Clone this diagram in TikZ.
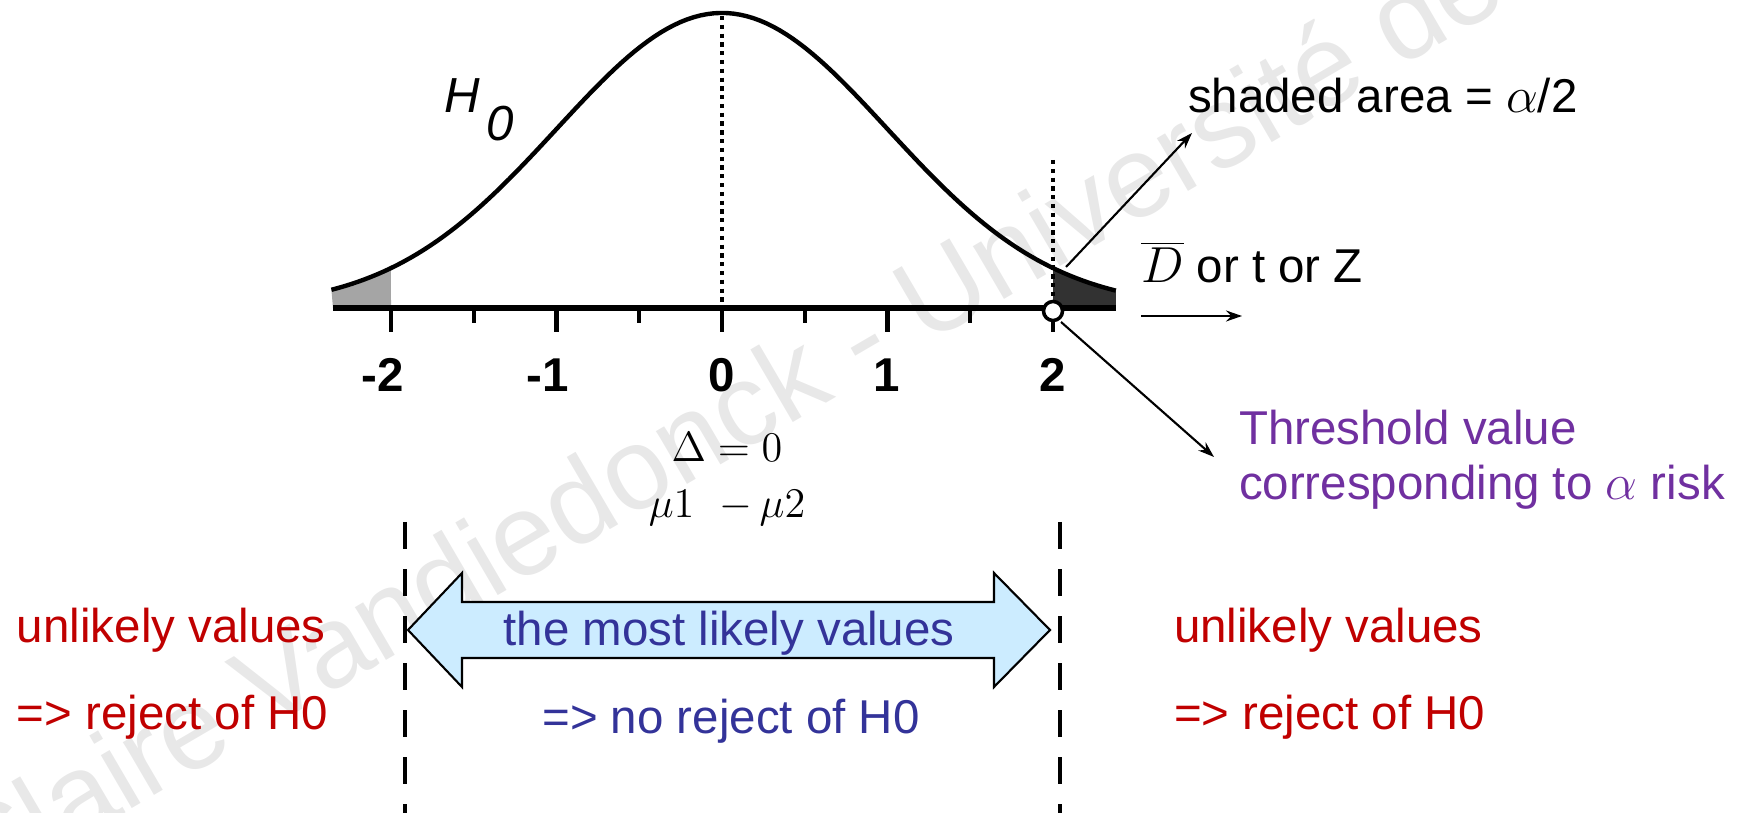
\documentclass[tikz,border=0pt]{standalone}
\usepackage{fontspec}
\setmainfont{Liberation Sans}
\usetikzlibrary{arrows.meta}
\definecolor{myred}{RGB}{192,0,0}
\definecolor{myblue}{RGB}{51,51,153}
\definecolor{mypurple}{RGB}{112,48,160}
\definecolor{arrowfill}{RGB}{204,236,255}
\definecolor{wm}{RGB}{232,232,232}
\definecolor{darkshade}{RGB}{50,50,50}
\definecolor{lightshade}{RGB}{165,165,165}
\begin{document}
\begin{tikzpicture}[x=0.01cm,y=-0.01cm,
  lbl/.style={font=\fontsize{13.5}{15.6}\selectfont, inner sep=0pt, outer sep=0pt},
  ticklbl/.style={font=\fontsize{13.5}{15}\selectfont\bfseries, inner sep=0pt, anchor=base},
  mathlbl/.style={font=\fontsize{13}{15}\selectfont, inner sep=0pt, anchor=base},
  curveline/.style={line width=1.25pt},
  axisline/.style={line width=1.6pt},
  tickline/.style={line width=1.2pt},
  dotline/.style={line width=1.2pt, dash pattern=on 1.2pt off 1.3pt},
  conn/.style={line width=0.6pt, -{Stealth[length=0.16cm, width=0.11cm]}},
  vdash/.style={line width=1.3pt, dash pattern=on 0.27cm off 0.2cm},
  dblarrow/.style={draw=black, line width=0.6pt, fill=arrowfill},
  watermark/.style={font=\fontsize{33}{33}\selectfont, text=wm, inner sep=0pt, rotate=30.3, anchor=base}
]
\useasboundingbox (0,0) rectangle (1737,813);

% watermark
\node[watermark] (wmk) at (743,452) {Claire Vandiedonck - Université de};

% shaded tails
\fill[lightshade] (333,308) -- plot[domain=-2.36:-2, samples=20] ({722+165.5*\x}, {308-295*exp(-0.5*(\x)*(\x))}) -- (391,308) -- cycle;
\fill[darkshade] (1053,308) -- plot[domain=2:2.38, samples=20] ({722+165.5*\x}, {308-295*exp(-0.5*(\x)*(\x))}) -- ({722+165.5*2.38},308) -- cycle;

% dotted lines
\draw[dotline] (722,16) -- (722,308);
\draw[dotline] (1053,160) -- (1053,308);

% curve
\draw[curveline] plot[domain=-2.36:2.38, samples=120] ({722+165.5*\x}, {308-295*exp(-0.5*(\x)*(\x))});

% axis
\draw[axisline] (333,308) -- (1116,308);
\foreach \t in {-2,-1,0,1,2} \draw[tickline] ({722+165.5*\t},308) -- ({722+165.5*\t},332);
\foreach \t in {-1.5,-0.5,0.5,1.5} \draw[tickline] ({722+165.5*\t},308) -- ({722+165.5*\t},323);

% tick labels
\node[ticklbl] (tm2) at (391,392) {\llap{-}2};
\node[ticklbl] (tm1) at (556,392) {\llap{-}1};
\node[ticklbl] (t0) at (722,392) {0};
\node[ticklbl] (t1) at (887,392) {1};
\node[ticklbl] (t2) at (1053,392) {2};

% threshold circle
\node[circle, draw=black, fill=white, line width=1pt, minimum size=0.19cm, inner sep=0pt] (thr) at (1053,311) {};

% H0
\node[lbl, anchor=base west, font=\fontsize{14}{16}\selectfont] (h0) at (444,113) {\itshape H\hspace{0.07cm}\raisebox{-0.27cm}{0}};

% right labels
\node[lbl, anchor=base west] (shaded) at (1188,113) {shaded area = $\alpha$/2};
\node[lbl, anchor=base west] (dvar) at (1141,283) {$\overline{D}$ or t or Z};
\node[lbl, anchor=base west, text=mypurple] (thr1) at (1239,445) {Threshold value};
\node[lbl, anchor=base west, text=mypurple] (thr2) at (1239,500) {corresponding to $\alpha$ risk};

\coordinate (cA) at (1066,267);
\coordinate (cB) at (1192,133);
\coordinate (cC) at (1061,322);
\coordinate (cD) at (1214,457);
\coordinate (cE) at (1141,316);
\coordinate (cF) at (1242,316);
\draw[conn] (cA) -- (cB);
\draw[conn] (cC) -- (cD);
\draw[conn] (cE) -- (cF);

% delta
\node[mathlbl] (delta) at (727,462) {$\Delta = 0$};
\node[mathlbl] (mu) at (727,518) {$\mu1\ \ {-}\,\mu2$};

% dashed verticals
\coordinate (dl1) at (405,522);
\coordinate (dl2) at (405,813);
\coordinate (dr1) at (1060,522);
\coordinate (dr2) at (1060,813);
\draw[vdash] (dl1) -- (dl2);
\draw[vdash] (dr1) -- (dr2);

% double arrow
\draw[dblarrow] (408,630) -- (462,573) -- (462,602) -- (994,602) -- (994,573) -- (1050,630)
  -- (994,687) -- (994,658) -- (462,658) -- (462,687) -- cycle;
\node[lbl, anchor=base, text=myblue] (likely) at (729,645) {the most likely values};
\node[lbl, anchor=base, text=myblue] (noreject) at (731,733) {=> no reject of H0};

% left and right
\node[lbl, anchor=base west, text=myred] (ul) at (17,642) {unlikely values};
\node[lbl, anchor=base west, text=myred] (rl) at (17,729) {=> reject of H0};
\node[lbl, anchor=base west, text=myred] (ur) at (1174,642) {unlikely values};
\node[lbl, anchor=base west, text=myred] (rr) at (1174,729) {=> reject of H0};
\end{tikzpicture}
\end{document}
